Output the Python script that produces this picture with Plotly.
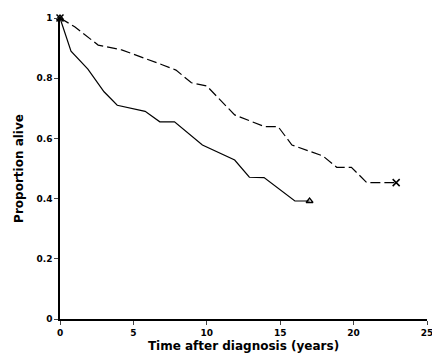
import plotly.graph_objects as go

# Solid curve (lower)
solid_x = [0, 0.75, 1.9, 3.0, 3.9, 5.8, 6.8, 7.8, 9.7, 11.9, 12.9, 13.9, 16.0, 17.0]
solid_y = [1.0, 0.89, 0.83, 0.755, 0.71, 0.69, 0.655, 0.655, 0.578, 0.528, 0.471, 0.47, 0.392, 0.392]

# Dashed curve (upper)
dash_x = [0, 1.0, 2.6, 4.2, 7.0, 7.9, 8.95, 10.0, 11.9, 13.95, 14.86, 15.8, 17.9, 18.85, 19.85, 20.9, 22.9]
dash_y = [1.0, 0.971, 0.91, 0.894, 0.844, 0.827, 0.785, 0.774, 0.678, 0.639, 0.639, 0.578, 0.542, 0.504, 0.504, 0.453, 0.453]

x_ticks = [0, 5, 10, 15, 20, 25]
y_ticks = [0, 0.2, 0.4, 0.6, 0.8, 1]
y_tick_labels = ["0", "0.2", "0.4", "0.6", "0.8", "1"]

fig = go.Figure()
fig.add_trace(go.Scatter(x=solid_x, y=solid_y, mode="lines",
                         line=dict(color="black", width=1.2), showlegend=False))
fig.add_trace(go.Scatter(x=dash_x, y=dash_y, mode="lines",
                         line=dict(color="black", width=1.2, dash="10px,4px"), showlegend=False))
# end markers
fig.add_trace(go.Scatter(x=[solid_x[0], solid_x[-1]], y=[solid_y[0], solid_y[-1]], mode="markers",
                         marker=dict(symbol="triangle-up-open", size=6, color="black", line=dict(width=1.3)),
                         showlegend=False))
fig.add_trace(go.Scatter(x=[dash_x[0], dash_x[-1]], y=[dash_y[0], dash_y[-1]], mode="markers",
                         marker=dict(symbol="x-thin", size=7, color="black", line=dict(width=1.5, color="black")),
                         showlegend=False))

font_family = "DejaVu Sans"
fig.update_layout(
    width=432, height=354,
    margin=dict(l=60, r=5, t=18, b=35),
    paper_bgcolor="white", plot_bgcolor="white",
    font=dict(family=font_family, color="black"),
    xaxis=dict(range=[0, 25], tickvals=x_ticks, ticks="outside", ticklen=4, tickwidth=1.2,
               showline=True, linecolor="black", linewidth=1.5, showgrid=False, zeroline=False,
               automargin=False, ticklabeloverflow="allow",
               tickfont=dict(size=9, family=font_family, weight="bold"),
               title=dict(text="Time after diagnosis (years)", font=dict(size=12, weight="bold"), standoff=5)),
    yaxis=dict(range=[0, 1], tickvals=y_ticks, ticktext=y_tick_labels, ticks="outside", ticklen=4, tickwidth=1.2,
               showline=True, linecolor="black", linewidth=1.5, showgrid=False, zeroline=False,
               automargin=False, ticklabeloverflow="allow",
               tickfont=dict(size=9, family=font_family, weight="bold"),
               title=dict(text="Proportion alive", font=dict(size=12, weight="bold"), standoff=10)),
)
fig.update_traces(cliponaxis=False)
fig.write_html("out.html", config={"displayModeBar": False},
               post_script="document.body.style.margin='0';")
